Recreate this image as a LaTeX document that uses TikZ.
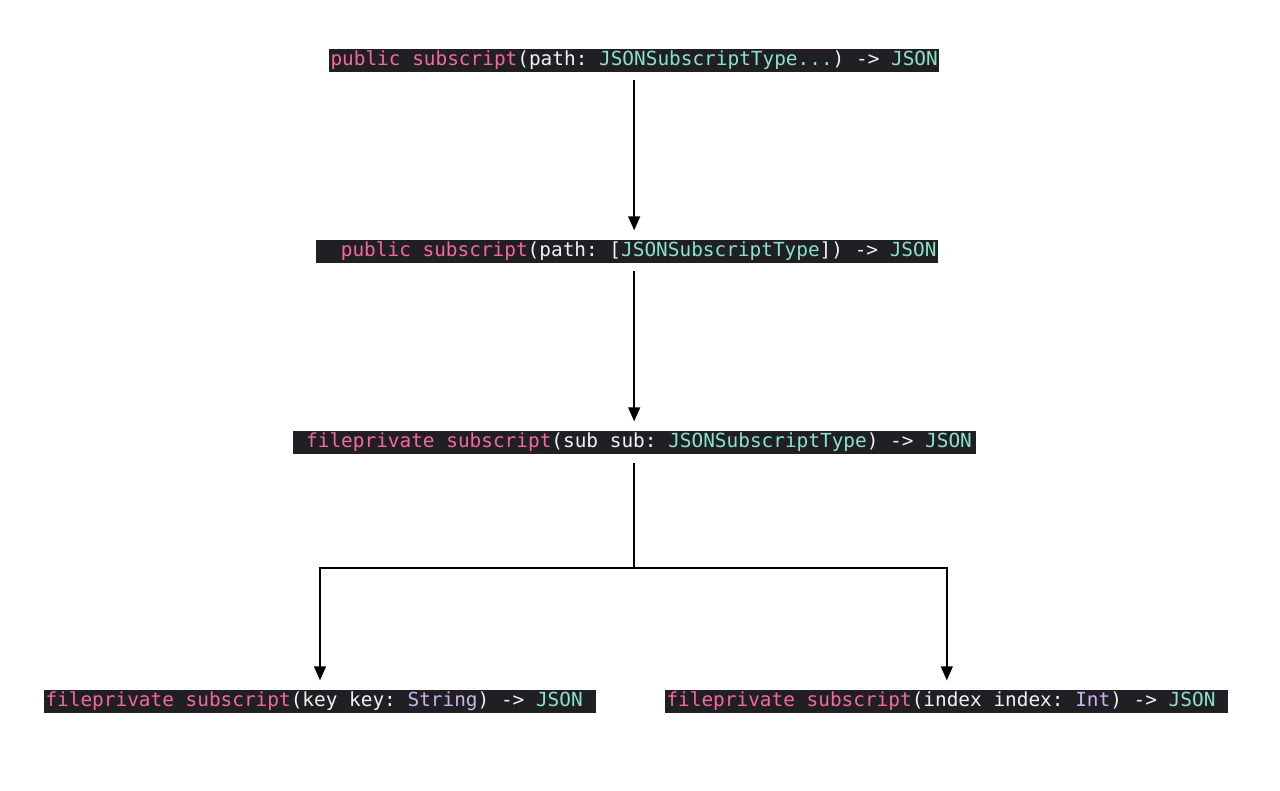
\documentclass[tikz,border=0pt]{standalone}
\usepackage{fontspec}
\setmonofont{DejaVu Sans Mono}
\usetikzlibrary{arrows.meta}
\definecolor{codebg}{HTML}{1F1F24}
\definecolor{kwpink}{HTML}{F5679F}
\definecolor{tyteal}{HTML}{8BE3C6}
\definecolor{cllav}{HTML}{C9B4F0}
\definecolor{codefg}{HTML}{F2F2F2}
\newcommand{\kwd}[1]{\textcolor{kwpink}{#1}}
\newcommand{\typ}[1]{\textcolor{tyteal}{#1}}
\newcommand{\cls}[1]{\textcolor{cllav}{#1}}
\begin{document}
\begin{tikzpicture}[x=1pt, y=-1pt,
	sig/.style={anchor=west, fill=codebg, text=codefg, inner xsep=1.3pt, inner ysep=1.5pt,
		text height=15pt, text depth=5pt, font=\ttfamily\fontsize{19.4}{22}\selectfont},
	call/.style={line width=1.4pt, shorten <=8pt, shorten >=9pt, -{Triangle[length=14pt,width=12pt]}}]
	\useasboundingbox (0,0) rectangle (1280,790);

	\node[sig] (pathvar) at (329,60.5) {\kwd{public} \kwd{subscript}(path: \typ{JSONSubscriptType...}) -> \typ{JSON}};
	\node[sig] (patharr) at (316,251) {\ \ \kwd{public} \kwd{subscript}(path: [\typ{JSONSubscriptType}]) -> \typ{JSON}};
	\node[sig] (sub) at (293,442) {\ \kwd{fileprivate} \kwd{subscript}(sub sub: \typ{JSONSubscriptType}) -> \typ{JSON}\hspace*{3pt}};
	\node[sig] (key) at (44,701) {\kwd{fileprivate} \kwd{subscript}(key key: \cls{String}) -> \typ{JSON}\ \mbox{}};
	\node[sig] (index) at (665,701) {\kwd{fileprivate} \kwd{subscript}(index index: \cls{Int}) -> \typ{JSON}\ \mbox{}};
	\coordinate (split) at (634,568);

	\draw[call] (pathvar.south) -- (pathvar.south |- patharr.north);
	\draw[call] (pathvar.south |- patharr.south) -- (pathvar.south |- sub.north);
	\draw[call, shorten <=9pt] (sub.south -| split) -- (split) -| (key.north);
	\draw[call, shorten <=9pt] (sub.south -| split) -- (split) -| (index.north);
\end{tikzpicture}
\end{document}
